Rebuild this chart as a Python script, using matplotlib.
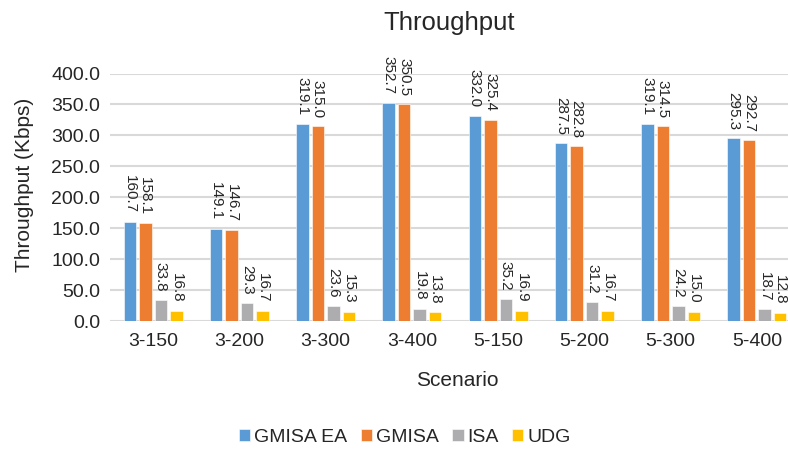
import matplotlib
matplotlib.use("Agg")
import matplotlib.pyplot as plt
import numpy as np

plt.rcParams["font.family"] = ["Liberation Sans", "DejaVu Sans"]

# Throughput per scenario (Kbps)
scenarios = ["3-150", "3-200", "3-300", "3-400", "5-150", "5-200", "5-300", "5-400"]
gmisa_ea = [160.7, 149.1, 319.1, 352.7, 332.0, 287.5, 319.1, 295.3]
gmisa = [158.1, 146.7, 315.0, 350.5, 325.4, 282.8, 314.5, 292.7]
isa = [33.8, 29.3, 23.6, 19.8, 35.2, 31.2, 24.2, 18.7]
udg = [16.8, 16.7, 15.3, 13.8, 16.9, 16.7, 15.0, 12.8]

series = [("GMISA EA", gmisa_ea, "#5B9BD5"),
          ("GMISA", gmisa, "#ED7D31"),
          ("ISA", isa, "#ADADB0"),
          ("UDG", udg, "#FFC000")]

txt = "#262626"

fig = plt.figure(figsize=(7.88, 4.49), dpi=100)
ax = fig.add_axes([110 / 788, 1 - 321 / 449, 690 / 788, (321 - 73.5) / 449])

x = np.arange(len(scenarios))
w = 0.145
pitch = 0.18
for i, (name, vals, col) in enumerate(series):
    pos = x + (i - 1.5) * pitch
    bars = ax.bar(pos, vals, w, color=col, label=name, edgecolor="white",
                  linewidth=0.4, zorder=3)
    for b, v in zip(bars, vals):
        ax.annotate(f"{v:.1f}", (b.get_x() + b.get_width() / 2, v),
                    xytext=(0, 6), textcoords="offset points",
                    rotation=270, ha="center", va="bottom",
                    fontsize=11, color=txt)

ax.set_xlim(-0.5, len(scenarios) - 0.5)
ax.set_ylim(0, 400)
ax.set_yticks(np.arange(0, 401, 50))
ax.set_yticklabels([f"{t:.1f}" for t in np.arange(0, 401, 50)])
ax.set_xticks(x)
ax.set_xticklabels(scenarios)
ax.tick_params(axis="both", length=0, labelsize=14, colors=txt)
ax.tick_params(axis="x", pad=9)
ax.tick_params(axis="y", pad=7)
ax.yaxis.grid(True, color="#D9D9D9", linewidth=1.5, zorder=0)
for s in ax.spines.values():
    s.set_visible(False)

fig.text(449 / 788, 1 - 23 / 449, "Throughput", ha="center", va="center",
         fontsize=18.5, color=txt)
fig.text(457 / 788, 1 - 380 / 449, "Scenario", ha="center", va="center",
         fontsize=15, color=txt)
fig.text(25 / 788, 1 - 185 / 449, "Throughput (Kbps)", ha="center", va="center",
         rotation=90, fontsize=15, color=txt)

fig.legend(loc="center", bbox_to_anchor=(405 / 788, 1 - 437 / 449), ncol=4,
           frameon=False, fontsize=14, handlelength=0.57, handleheight=0.57,
           handletextpad=0.2, columnspacing=0.7, labelcolor=txt)

fig.savefig("out.png", dpi=100)
